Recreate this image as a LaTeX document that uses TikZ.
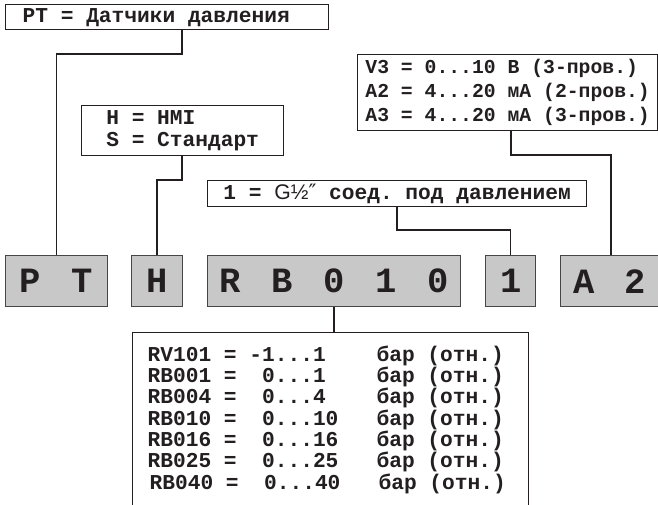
\documentclass[tikz,border=0pt]{standalone}
\usepackage{fontspec}
\setmainfont{Liberation Mono}
\newfontfamily\gsans{Liberation Sans}
\newfontfamily\dvs{DejaVu Sans}
\definecolor{codegray}{RGB}{200,200,200}
\definecolor{ink}{RGB}{35,31,32}
\definecolor{edge}{RGB}{70,70,70}
\newcommand\monosp{\frenchspacing\fontdimen2\font=0.6em\fontdimen3\font=0pt\fontdimen4\font=0pt\relax}
\newcommand\codesp{\frenchspacing\fontdimen2\font=30.7pt\fontdimen3\font=0pt\fontdimen4\font=0pt\relax}
\newcommand\fixsp{\spaceskip=0.6em\xspaceskip=0.6em\relax}
\begin{document}
\begin{tikzpicture}[x=1pt,y=-1pt,
  conn/.style={draw=ink, line width=1.4pt},
  infobox/.style={draw=ink, line width=1.3pt, fill=white, anchor=north west,
    inner xsep=0pt, inner ysep=0pt, align=left, text=ink,
    font=\fontsize{21.2}{22}\selectfont\bfseries\monosp},
  codebox/.style={draw=edge, line width=1.3pt, fill=codegray, anchor=north west,
    inner sep=0pt, minimum height=51pt, text=ink,
    font=\fontsize{35.5}{35.5}\selectfont\bfseries\codesp},
]
\useasboundingbox (0,0) rectangle (658,505);
\clip (0,0) rectangle (658,505);

% info boxes
\node[infobox, inner xsep=17pt, text width=289pt, minimum height=25pt] (ptinfo) at (5,4)
  {\fixsp PT = Датчики давления};
\node[infobox, minimum width=202pt, minimum height=50pt] (hsinfo) at (81,105)
  {H = HMI\\S = Стандарт};
\node[infobox, minimum width=300pt, minimum height=76pt,
  font=\fontsize{19.75}{24}\selectfont\bfseries\monosp] (a2info) at (357,54)
  {V3 = 0...10 В (3-пров.)\\A2 = 4...20 мА (2-пров.)\\A3 = 4...20 мА (3-пров.)};
\node[infobox, minimum width=379pt, minimum height=26pt] (ginfo) at (207,180)
  {1 = {\gsans\mdseries G½}{\dvs\mdseries ″} соед. под давлением};
\node[infobox, inner xsep=15pt, inner ysep=13pt, text width=366pt,
  font=\fontsize{21.2}{21.3}\selectfont\bfseries\monosp] (rbinfo) at (132,332)
  {\fixsp RV101~=~-1...1~~~~бар~(отн.)\\
   RB001~=~~0...1~~~~бар~(отн.)\\
   RB004~=~~0...4~~~~бар~(отн.)\\
   RB010~=~~0...10~~~бар~(отн.)\\
   RB016~=~~0...16~~~бар~(отн.)\\
   RB025~=~~0...25~~~бар~(отн.)\\
   \hspace*{2pt}RB040~=~~0...40~~~бар~(отн.)\\
   \mbox{}};

% code boxes
\node[codebox, minimum width=102pt] (pt) at (5,255) {P T};
\node[codebox, minimum width=51pt] (h) at (131,255) {H};
\node[codebox, minimum width=253pt] (rb) at (207,255) {R B 0 1 0};
\node[codebox, minimum width=50pt] (one) at (485,255) {1};
\node[codebox, minimum width=110pt] (a2) at (560,255) {\kern-6pt A 2\kern6pt};

% connectors
\coordinate (k1) at (182,54);
\coordinate (k2) at (182,180);
\coordinate (k3) at (397,230);
\coordinate (k4) at (511,155);
\coordinate (k5) at (611,155);
\draw[conn] (ptinfo.south -| k1) -- (k1) -| (pt.north);
\draw[conn] (h.north) |- (k2) -- (hsinfo.south -| k2);
\draw[conn] (rb.south) -- (rbinfo.north -| rb.south);
\draw[conn] (ginfo.south -| k3) -- (k3) -| (one.north);
\draw[conn] (a2info.south -| k4) -- (k4) -- (k5) -- (a2.north -| k5);
\end{tikzpicture}
\end{document}
